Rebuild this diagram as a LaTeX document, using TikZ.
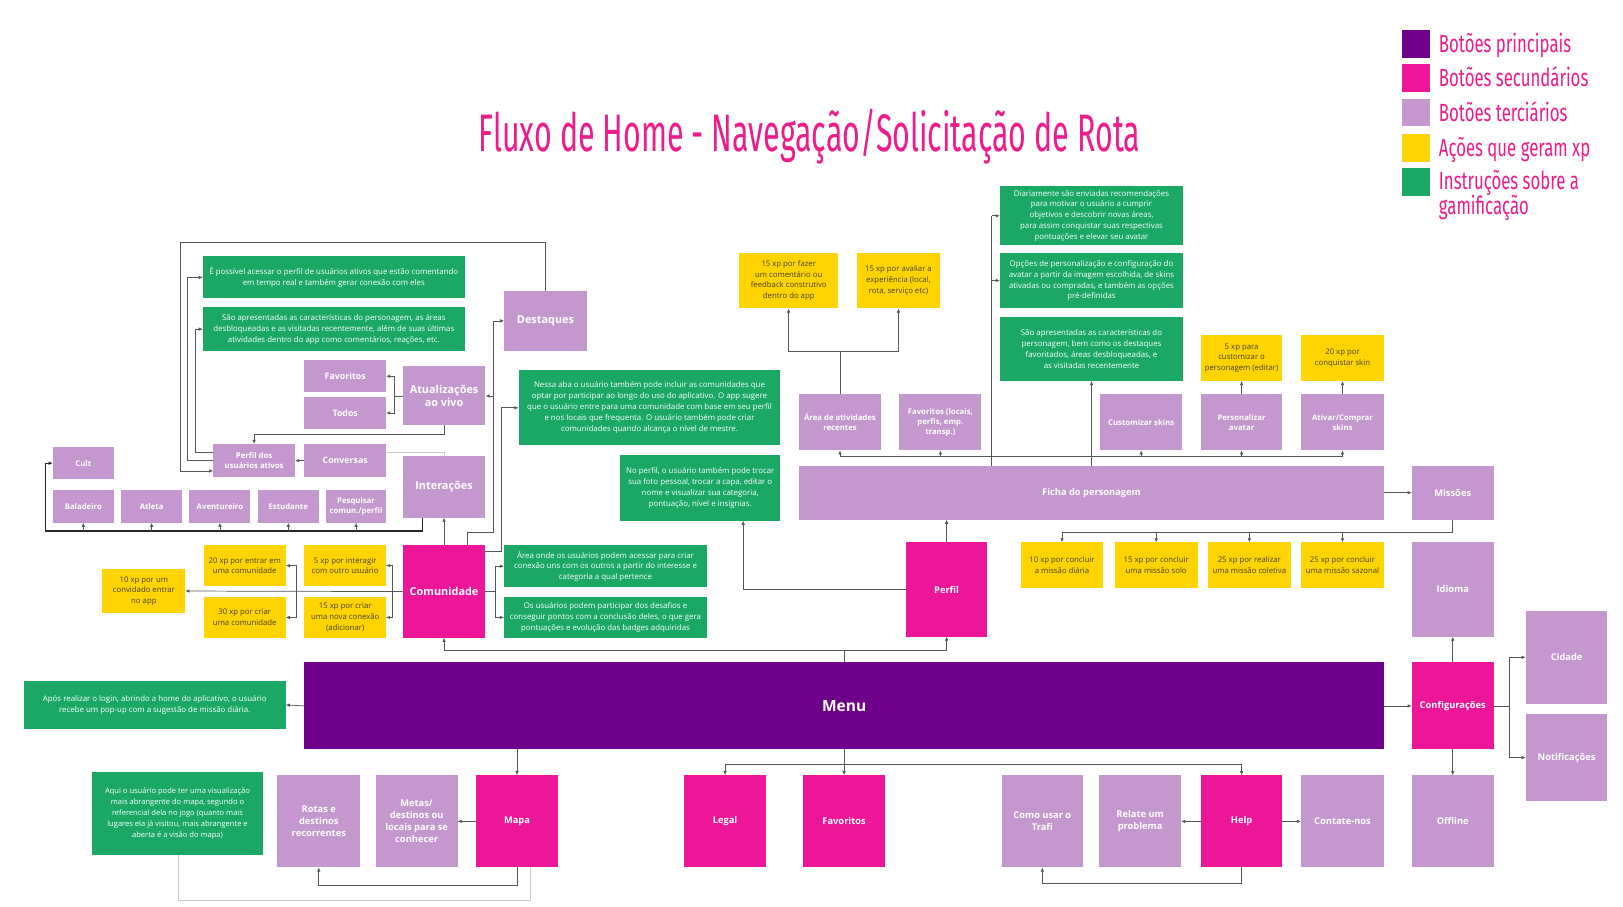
\documentclass[tikz,border=0pt]{standalone}
\usepackage{fontspec}
\setmainfont{Open Sans}
\newfontfamily\titlefont[FakeStretch=0.575]{Fira Sans}
\newfontfamily\legfont[FakeStretch=0.675]{Fira Sans}
\usetikzlibrary{arrows.meta}
\definecolor{cmain}{RGB}{110,0,137}
\definecolor{csec}{RGB}{238,22,152}
\definecolor{cter}{RGB}{196,152,207}
\definecolor{cxp}{RGB}{255,212,0}
\definecolor{cgr}{RGB}{26,168,100}
\definecolor{cline}{RGB}{85,85,85}
\definecolor{cpink}{RGB}{236,28,140}
\definecolor{cytxt}{RGB}{70,62,40}
\newcommand\mybox[7]{%
 \pgfmathsetmacro\bw{#5-#3}\pgfmathsetmacro\bh{#6-#4}%
 \node[#2,minimum width=\bw pt,minimum height=\bh pt,anchor=north west] (#1) at (#3,#4) {#7};}
\tikzset{
 bx/.style={inner sep=0pt, outer sep=0pt, align=center, text=white, font=\bfseries\fontsize{7.5}{9.5}\selectfont},
 ter/.style={bx, fill=cter},
 sec/.style={bx, fill=csec},
 gr/.style={bx, fill=cgr, font=\fontsize{7.6}{10.5}\selectfont},
 yl/.style={bx, fill=cxp, text=cytxt, font=\fontsize{7.5}{10.5}\selectfont},
 s7/.style={font=\bfseries\fontsize{7.5}{9.5}\selectfont},
 s8/.style={font=\bfseries\fontsize{8.5}{10.5}\selectfont},
 s9/.style={font=\bfseries\fontsize{9}{11.5}\selectfont},
 s10/.style={font=\bfseries\fontsize{10.5}{13.5}\selectfont},
 ln/.style={draw=cline, line width=0.7pt},
 arr/.style={ln, -{Latex[length=4pt,width=3.4pt]}},
 lt/.style={draw=black!20, line width=0.7pt},
 legsq/.style={inner sep=0pt, minimum size=27pt, anchor=north west},
 legtx/.style={anchor=base west, inner sep=0pt, text=cpink, font=\legfont\fontsize{24}{26}\selectfont},
}
\begin{document}
\begin{tikzpicture}[x=1pt,y=-1pt]
\useasboundingbox (0,0) rectangle (1568,876);
\fill[white] (0,0) rectangle (1568,876);

% title and legend
\node[anchor=base, inner sep=0pt, text=cpink, font=\titlefont\fontsize{51}{55}\selectfont] (title) at (782,146) {Fluxo de Home - Navegação/Solicitação de Rota};
\node[legsq, fill=cmain] (lq1) at (1354,29) {};
\node[legsq, fill=csec] (lq2) at (1354,62) {};
\node[legsq, fill=cter] (lq3) at (1354,95) {};
\node[legsq, fill=cxp] (lq4) at (1354,129) {};
\node[legsq, fill=cgr] (lq5) at (1354,162) {};
\node[legtx] (lt1) at (1390,51) {Botões principais};
\node[legtx] (lt2) at (1390,84) {Botões secundários};
\node[legtx] (lt3) at (1390,117) {Botões terciários};
\node[legtx] (lt4) at (1390,151) {Ações que geram xp};
\node[legtx] (lt5) at (1390,183) {Instruções sobre a};
\node[legtx] (lt6) at (1390,207) {gamificação};

% upper left
\mybox{g1}{gr}{196}{247}{449}{288}{É possível acessar o perfil de usuários ativos que estão comentando\\em tempo real e também gerar conexão com eles}
\mybox{g2}{gr}{196}{297}{449}{339}{São apresentadas as características do personagem, as áreas\\desbloqueadas e as visitadas recentemente, além de suas últimas\\atividades dentro do app como comentários, reações, etc.}
\mybox{destaq}{ter,s10}{487}{281}{567}{339}{Destaques}
\mybox{fav1}{ter,s8}{294}{348}{373}{379}{Favoritos}
\mybox{todos}{ter,s8}{294}{384}{373}{414}{Todos}
\mybox{atual}{ter,s10}{389}{354}{469}{411}{Atualizações\\ao vivo}
\mybox{pua}{ter,s7}{206}{429}{285}{461}{Perfil dos\\usuários ativos}
\mybox{conv}{ter,s8}{294}{429}{373}{461}{Conversas}
\mybox{inter}{ter,s10}{389}{441}{469}{500}{Interações}
\mybox{cult}{ter,s7}{51}{432}{110}{463}{Cult}
\mybox{bal}{ter,s7}{51}{473}{110}{505}{Baladeiro}
\mybox{atl}{ter,s7}{117}{473}{176}{505}{Atleta}
\mybox{avt}{ter,s7}{183}{473}{242}{505}{Aventureiro}
\mybox{est}{ter,s7}{249}{473}{308}{505}{Estudante}
\mybox{pesq}{ter,s7}{315}{473}{373}{505}{Pesquisar\\comun./perfil}

% community
\mybox{comun}{sec,s10}{389}{527}{469}{616}{Comunidade}
\mybox{xp20}{yl}{197}{527}{276}{566}{20 xp por entrar em\\uma comunidade}
\mybox{xp5}{yl}{294}{527}{373}{566}{5 xp por interagir\\com outro usuário}
\mybox{xp30}{yl}{197}{577}{276}{616}{30 xp por criar\\uma comunidade}
\mybox{xp15}{yl}{294}{577}{373}{616}{15 xp por criar\\uma nova conexão\\(adicionar)}
\mybox{xp10}{yl}{99}{550}{179}{592}{10 xp por um\\convidado entrar\\no app}
\mybox{g8}{gr}{487}{527}{683}{567}{Área onde os usuários podem acessar para criar\\conexão uns com os outros a partir do interesse e\\categoria a qual pertence}
\mybox{g9}{gr}{487}{577}{683}{616}{Os usuários podem participar dos desafios e\\conseguir pontos com a conclusão deles, o que gera\\pontuações e evolução das badges adquiridas}
\mybox{g3}{gr}{501}{357}{754}{430}{Nessa aba o usuário também pode incluir as comunidades que\\optar por participar ao longo do uso do aplicativo. O app sugere\\que o usuário entre para uma comunidade com base em seu perfil\\e nos locais que frequenta. O usuário também pode criar\\comunidades quando alcança o nível de mestre.}
\mybox{g4}{gr}{599}{440}{754}{503}{No perfil, o usuário também pode trocar\\sua foto pessoal, trocar a capa, editar o\\nome e visualizar sua categoria,\\pontuação, nível e insígnias.}

% character sheet
\mybox{xpc1}{yl}{714}{244}{810}{298}{15 xp por fazer\\um comentário ou\\feedback construtivo\\dentro do app}
\mybox{xpc2}{yl}{828}{244}{908}{298}{15 xp por avaliar a\\experiência (local,\\rota, serviço etc)}
\mybox{area}{ter,s7}{772}{381}{851}{435}{Área de atividades\\recentes}
\mybox{favl}{ter,s7}{869}{381}{948}{435}{Favoritos (locais,\\perfis, emp.\\transp.)}
\mybox{g5}{gr}{966}{180}{1143}{237}{Diariamente são enviadas recomendações\\para motivar o usuário a cumprir\\objetivos e descobrir novas áreas,\\para assim conquistar suas respectivas\\pontuações e elevar seu avatar}
\mybox{g6}{gr}{966}{244}{1143}{298}{Opções de personalização e configuração do\\avatar a partir da imagem escolhida, de skins\\ativadas ou compradas, e também as opções\\pré-definidas}
\mybox{g7}{gr}{966}{306}{1143}{368}{São apresentadas as características do\\personagem, bem como os destaques\\favoritados, áreas desbloqueadas, e\\as visitadas recentemente}
\mybox{xpp}{yl}{1160}{324}{1239}{368}{5 xp para\\customizar o\\personagem (editar)}
\mybox{xps}{yl}{1257}{324}{1337}{368}{20 xp por\\conquistar skin}
\mybox{cust}{ter,s7}{1063}{381}{1142}{435}{Customizar skins}
\mybox{pers}{ter,s7}{1160}{381}{1239}{435}{Personalizar\\avatar}
\mybox{ativ}{ter,s7}{1257}{381}{1337}{435}{Ativar/Comprar\\skins}
\mybox{ficha}{ter,s9}{772}{450}{1337}{502}{Ficha do personagem}
\mybox{miss}{ter,s9}{1364}{450}{1443}{502}{Missões}
\mybox{m1}{yl}{986}{524}{1066}{568}{10 xp por concluir\\a missão diária}
\mybox{m2}{yl}{1077}{524}{1157}{568}{15 xp por concluir\\uma missão solo}
\mybox{m3}{yl}{1167}{524}{1247}{568}{25 xp por realizar\\uma missão coletiva}
\mybox{m4}{yl}{1257}{524}{1337}{568}{25 xp por concluir\\uma missão sazonal}
\mybox{idioma}{ter,s9}{1364}{524}{1443}{615}{Idioma}
\mybox{perfil}{sec,s9}{875}{524}{954}{615}{Perfil}

% menu row
\mybox{menu}{bx,fill=cmain,font=\bfseries\fontsize{15}{18}\selectfont}{294}{640}{1337}{724}{Menu}
\mybox{g10}{gr}{23}{658}{276}{704}{Após realizar o login, abrindo a home do aplicativo, o usuário\\recebe um pop-up com a sugestão de missão diária.}
\mybox{config}{sec,s9}{1364}{640}{1443}{724}{Configurações}
\mybox{cidade}{ter,s9}{1474}{590}{1553}{680}{Cidade}
\mybox{notif}{ter,s9}{1474}{690}{1553}{774}{Notificações}
\mybox{offline}{ter,s9}{1364}{749}{1443}{838}{Offline}

% bottom row
\mybox{g11}{gr,font=\fontsize{7.3}{10.5}\selectfont}{89}{746}{254}{826}{Aqui o usuário pode ter uma visualização\\mais abrangente do mapa, segundo o\\referencial dela no jogo (quanto mais\\lugares ela já visitou, mais abrangente e\\aberta é a visão do mapa)}
\mybox{rotas}{ter,s9}{268}{749}{348}{838}{Rotas e\\destinos\\recorrentes}
\mybox{metas}{ter,s9}{363}{749}{442}{838}{Metas/\\destinos ou\\locais para se\\conhecer}
\mybox{mapa}{sec,s9}{460}{749}{539}{838}{Mapa}
\mybox{legal}{sec,s9}{661}{749}{740}{838}{Legal}
\mybox{favb}{sec,s9}{776}{749}{855}{838}{Favoritos}
\mybox{como}{ter,s9}{968}{749}{1046}{838}{Como usar o\\Trafi}
\mybox{relate}{ter,s9}{1062}{749}{1141}{838}{Relate um\\problema}
\mybox{help}{sec,s9}{1160}{749}{1239}{838}{Help}
\mybox{contate}{ter,s9}{1257}{749}{1337}{838}{Contate-nos}

% ---------- connectors ----------
\draw[arr] (destaq.north) |- (174,234) |- (pua.west |- 0,455);
\draw[arr] (pua.west |- 0,437) -| (189,318) -- (g2.west |- 0,318);
\draw[arr] (pua.west |- 0,445) -| (181,268) -- (g1.west |- 0,268);
\draw[arr] (atual.west) -- ++(-8,0) |- (fav1.east);
\draw[arr] (atual.west) -- ++(-8,0) |- (todos.east);
\draw[arr] (atual.south) -- ++(0,9) -| (pua.north);
\draw[arr] (conv.west) -- (pua.east);
\draw[lt] (conv.east |- 0,437) -| (inter.north);
\draw[arr, line width=1pt, draw=black!85] (inter.south -| 408,0) |- (44,513) |- (cult.west);
\foreach \b in {bal,atl,avt,est,pesq}{\draw[arr] (\b.south |- 0,513) -- (\b.south);}
\draw[arr] (comun.north) -- (inter.south);
\draw[arr] (comun.north -| 452,0) |- (477,514) |- (destaq.west);
\draw[arr] (477,382.5) -- (atual.east);
\draw[arr] (comun.east |- 0,533) -| (484,394) -- (g3.west |- 0,394);
\draw[arr] (comun.east) -- ++(10,0) |- (g8.west);
\draw[arr] (comun.east) -- ++(10,0) |- (g9.west);
\draw[arr] (comun.west) -- (xp10.east);
\draw[arr] (379,571.5) |- (xp5.east);
\draw[arr] (379,571.5) |- (xp15.east);
\draw[arr] (286,571.5) |- (xp20.east);
\draw[arr] (286,571.5) |- (xp30.east);
\draw[arr] (menu.north) -- ++(0,-12) -| (comun.south);
\draw[arr] (menu.north) -- ++(0,-12) -| (perfil.south);
\draw[arr] (perfil.west) -| (g4.south -| 718,0);
\draw[arr] (perfil.north) -- (ficha.south -| perfil.north);
\draw[arr] (ficha.north) -- (g7.south);
\draw[ln] (ficha.north -| 958,0) -- (958,208.5);
\draw[arr] (958,208.5) -- (g5.west);
\draw[arr] (958,271) -- (g6.west);
\draw[ln] (area.south |- 0,441) -- (ativ.south |- 0,441);
\foreach \b in {area,favl,cust,pers,ativ}{\draw[arr] (\b.south |- 0,441) -- (\b.south);}
\draw[arr] (area.north) -- ++(0,-42) -| (xpc1.south);
\draw[arr] (area.north) -- ++(0,-42) -| (xpc2.south);
\draw[arr] (pers.north) -- (xpp.south);
\draw[arr] (ativ.north) -- (xps.south);
\draw[arr] (ficha.east) -- (miss.west);
\draw[ln] (miss.south) |- (m1.north |- 0,514);
\foreach \b in {m1,m2,m3,m4}{\draw[arr] (\b.north |- 0,514) -- (\b.north);}
\draw[arr] (menu.east) -- (config.west);
\draw[arr] (config.north) -- (idioma.south);
\draw[arr] (config.south) -- (offline.north);
\draw[arr] (config.east) -- ++(15,0) |- (cidade.west);
\draw[arr] (config.east) -- ++(15,0) |- (notif.west);
\draw[arr] (menu.west) -- (g10.east);
\draw[arr] (menu.south -| mapa.north) -- (mapa.north);
\draw[arr] (menu.south) -- ++(0,14) -| (legal.north);
\draw[arr] (menu.south) -- ++(0,14) -| (help.north);
\draw[arr] (menu.south) -- (favb.north);
\draw[arr] (mapa.west) -- (metas.east);
\draw[arr] (mapa.south) -- ++(0,17) -| (rotas.south);
\draw[lt] (g11.south -| 172,0) |- (512,870) -- (mapa.south -| 512,0);
\draw[arr] (help.west) -- (relate.east);
\draw[arr] (help.east) -- (contate.west);
\draw[arr] (help.south) -- ++(0,15) -| (como.south);
\end{tikzpicture}
\end{document}
